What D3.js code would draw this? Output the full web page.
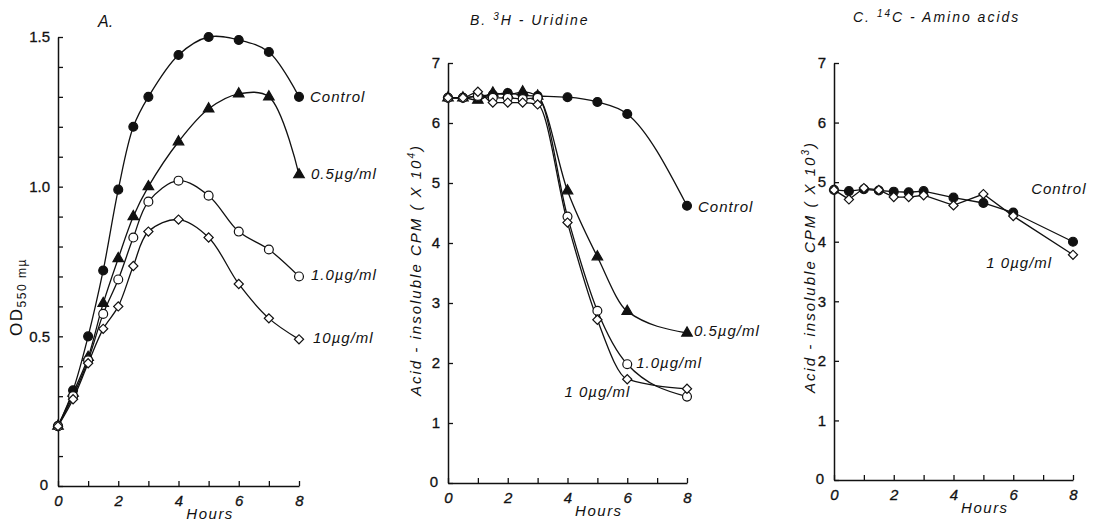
<!DOCTYPE html>
<html><head><meta charset="utf-8">
<script src="https://cdn.jsdelivr.net/npm/d3@7"></script>
<style>
body{margin:0;background:#fff}
text{font-family:"Liberation Sans",Arial,sans-serif;fill:#111}
</style>
</head><body>
<svg id="chart" width="1094" height="521"></svg>
<script>
// ---- Panel A: OD550 ----
const hoursA = [0, 0.5, 1, 1.5, 2, 2.5, 3, 4, 5, 6, 7, 8];
const odControl = [0.20, 0.32, 0.50, 0.72, 0.99, 1.20, 1.30, 1.44, 1.50, 1.49, 1.45, 1.30];
const odHalf    = [0.20, 0.31, 0.43, 0.61, 0.76, 0.90, 1.00, 1.15, 1.26, 1.31, 1.30, 1.04];
const odOne     = [0.20, 0.30, 0.42, 0.575, 0.69, 0.83, 0.95, 1.02, 0.97, 0.85, 0.79, 0.70];
const odTen     = [0.20, 0.29, 0.41, 0.525, 0.60, 0.735, 0.85, 0.89, 0.83, 0.675, 0.56, 0.49];
const yTicksA = [0, 0.5, 1.0, 1.5];
const yLabelsA = ["0", "0.5", "1.0", "1.5"];

// ---- Panel B: 3H-Uridine ----
const hoursB = [0, 0.5, 1, 1.5, 2, 2.5, 3, 4, 5, 6, 8];
const uriControl = [6.42, 6.42, 6.45, 6.47, 6.50, 6.46, 6.45, 6.43, 6.35, 6.15, 4.62];
const uriHalf    = [6.42, 6.42, 6.38, 6.50, 6.47, 6.52, 6.45, 4.87, 3.77, 2.86, 2.50];
const uriOne     = [6.42, 6.42, 6.45, 6.42, 6.42, 6.40, 6.42, 4.44, 2.87, 1.98, 1.44];
const uriTen     = [6.42, 6.42, 6.52, 6.34, 6.34, 6.34, 6.31, 4.34, 2.72, 1.73, 1.57];

// ---- Panel C: 14C-Amino acids ----
const hoursC = [0, 0.5, 1, 1.5, 2, 2.5, 3, 4, 5, 6, 8];
const aaControl = [4.87, 4.85, 4.88, 4.86, 4.84, 4.83, 4.85, 4.74, 4.65, 4.49, 4.00];
const aaTen     = [4.87, 4.71, 4.90, 4.87, 4.75, 4.75, 4.78, 4.61, 4.80, 4.43, 3.78];

const xTickLabels = ["0", "2", "4", "6", "8"];
const cpmTicks = [0, 1, 2, 3, 4, 5, 6, 7];

const svg = d3.select("#chart");

const sym = {
  filledCircle: {type: d3.symbolCircle, size: 62, fill: "#111", rot: 0},
  openCircle: {type: d3.symbolCircle, size: 62, fill: "#fff", rot: 0},
  triangle: {type: d3.symbolTriangle, size: 48, fill: "#111", rot: 0},
  diamond: {type: d3.symbolSquare, size: 42, fill: "#fff", rot: 45}
};

function panel(cfg) {
  const x = d3.scaleLinear().domain([0, 8]).range([cfg.left, cfg.right]);
  const y = d3.scaleLinear().domain(cfg.yDomain).range([cfg.bottom, cfg.top]);
  const g = svg.append("g");

  const xa = g.append("g").attr("transform", `translate(0,${cfg.bottom})`)
    .call(d3.axisBottom(x).tickValues(d3.range(0, 9, 1)).tickSizeInner(-5).tickSizeOuter(0)
      .tickFormat(d => (d % 2 === 0 ? xTickLabels[d / 2] : "")).tickPadding(9));
  xa.select(".domain").attr("stroke", "#111").attr("stroke-width", 1.5);
  xa.selectAll(".tick line").attr("stroke", "#111").attr("stroke-width", 1.3);
  xa.selectAll(".tick text").attr("font-size", 15).attr("font-style", "italic").attr("fill", "#111")
    .attr("stroke", "#111").attr("stroke-width", 0.3)
    .attr("font-family", "'Liberation Sans', Arial, sans-serif");

  const ya = g.append("g").attr("transform", `translate(${cfg.left},0)`)
    .call(d3.axisLeft(y).tickValues(cfg.yTickVals).tickSizeInner(-5).tickSizeOuter(0)
      .tickFormat(cfg.yFmt).tickPadding(8));
  ya.select(".domain").attr("stroke", "#111").attr("stroke-width", 1.5);
  ya.selectAll(".tick line").attr("stroke", "#111").attr("stroke-width", 1.3);
  ya.selectAll(".tick text").attr("font-size", 15).attr("fill", "#111")
    .attr("stroke", "#111").attr("stroke-width", 0.3)
    .attr("font-family", "'Liberation Sans', Arial, sans-serif");
  ya.selectAll(".tick").filter(d => d === 0).select("text").attr("dx", -2).attr("dy", "0.2em");

  g.append("text").attr("x", x(5.05)).attr("y", cfg.bottom + 33).attr("text-anchor", "middle")
    .attr("font-size", 15).attr("font-style", "italic").attr("letter-spacing", 1.5).text("Hours");

  const line = d3.line().x(d => x(d[0])).y(d => y(d[1])).curve(cfg.curve);
  cfg.series.forEach(s => {
    const pts = s.hours.map((h, i) => [h, s.values[i]]);
    g.append("path").datum(pts).attr("d", line).attr("fill", "none")
      .attr("stroke", "#111").attr("stroke-width", 1.3);
  });
  cfg.series.forEach(s => {
    const m = sym[s.marker];
    const pts = s.hours.map((h, i) => [h, s.values[i]]);
    g.selectAll(null).data(pts).enter().append("path")
      .attr("d", d3.symbol().type(m.type).size(m.size))
      .attr("transform", d => `translate(${x(d[0])},${y(d[1])}) rotate(${m.rot})`)
      .attr("fill", m.fill).attr("stroke", "#111").attr("stroke-width", 1.2);
  });
  cfg.labels.forEach(l => {
    g.append("text").attr("x", x(l.h) + (l.dx || 0)).attr("y", y(l.v) + (l.dy || 0))
      .attr("dominant-baseline", "middle").attr("font-size", 15).attr("font-style", "italic")
      .attr("letter-spacing", 1).text(l.t);
  });
  return {x, y, g};
}

// Panel A
panel({
  left: 58, right: 299, bottom: 486, top: 37, yDomain: [0, 1.5],
  yTickVals: d3.range(0, 16).map(i => i / 10),
  yFmt: d => { const i = yTicksA.findIndex(t => Math.abs(t - d) < 1e-6); return i >= 0 ? yLabelsA[i] : ""; },
  curve: d3.curveCatmullRom.alpha(0.5),
  series: [
    {hours: hoursA, values: odControl, marker: "filledCircle"},
    {hours: hoursA, values: odHalf, marker: "triangle"},
    {hours: hoursA, values: odOne, marker: "openCircle"},
    {hours: hoursA, values: odTen, marker: "diamond"}
  ],
  labels: [
    {h: 8, v: 1.30, dx: 11, dy: 1, t: "Control"},
    {h: 8, v: 1.04, dx: 12, dy: 0, t: "0.5\u00b5g/ml"},
    {h: 8, v: 0.70, dx: 12, dy: 0, t: "1.0\u00b5g/ml"},
    {h: 8, v: 0.49, dx: 14, dy: 0, t: "10\u00b5g/ml"}
  ]
});
svg.append("text").attr("x", 98).attr("y", 27).attr("font-size", 16).attr("font-style", "italic").text("A.");
svg.append("text").attr("transform", "translate(22,297) rotate(-90)").attr("text-anchor", "middle")
  .attr("font-size", 17).attr("letter-spacing", 1.5)
  .html('OD<tspan font-size="12" dy="4">550 m\u00b5</tspan>');

// Panel B
panel({
  left: 448, right: 687, bottom: 483, top: 63, yDomain: [0, 7],
  yTickVals: cpmTicks, yFmt: d3.format("d"),
  curve: d3.curveMonotoneX,
  series: [
    {hours: hoursB, values: uriControl, marker: "filledCircle"},
    {hours: hoursB, values: uriHalf, marker: "triangle"},
    {hours: hoursB, values: uriOne, marker: "openCircle"},
    {hours: hoursB, values: uriTen, marker: "diamond"}
  ],
  labels: [
    {h: 8, v: 4.62, dx: 11, dy: 2, t: "Control"},
    {h: 8, v: 2.50, dx: 7, dy: -1, t: "0.5\u00b5g/ml"},
    {h: 6, v: 1.98, dx: 9, dy: 0, t: "1.0\u00b5g/ml"},
    {h: 4, v: 1.5, dx: -3, dy: 0, t: "1 0\u00b5g/ml"}
  ]
});
svg.append("text").attr("x", 470).attr("y", 25).attr("font-size", 14).attr("font-style", "italic")
  .attr("letter-spacing", 2)
  .html('B.  <tspan font-size="10" dy="-5">3</tspan><tspan dy="5">H - Uridine</tspan>');
svg.append("text").attr("transform", "translate(421,270) rotate(-90)").attr("text-anchor", "middle")
  .attr("font-size", 15).attr("font-style", "italic").attr("letter-spacing", 2)
  .html('Acid - insoluble  CPM  ( X 10<tspan font-size="10" dy="-6">4</tspan><tspan dy="6">)</tspan>');

// Panel C
panel({
  left: 834, right: 1073, bottom: 480, top: 63, yDomain: [0, 7],
  yTickVals: cpmTicks, yFmt: d3.format("d"),
  curve: d3.curveLinear,
  series: [
    {hours: hoursC, values: aaControl, marker: "filledCircle"},
    {hours: hoursC, values: aaTen, marker: "diamond"}
  ],
  labels: [
    {h: 6.6, v: 4.87, dx: 0, dy: 0, t: "Control"},
    {h: 5.1, v: 3.62, dx: 0, dy: 0, t: "1 0\u00b5g/ml"}
  ]
});
svg.append("text").attr("x", 853).attr("y", 22).attr("font-size", 14).attr("font-style", "italic")
  .attr("letter-spacing", 2)
  .html('C.  <tspan font-size="10" dy="-5">14</tspan><tspan dy="5">C - Amino  acids</tspan>');
svg.append("text").attr("transform", "translate(815,267) rotate(-90)").attr("text-anchor", "middle")
  .attr("font-size", 15).attr("font-style", "italic").attr("letter-spacing", 2)
  .html('Acid - insoluble  CPM  ( X 10<tspan font-size="10" dy="-6">3</tspan><tspan dy="6">)</tspan>');
</script>
</body></html>
